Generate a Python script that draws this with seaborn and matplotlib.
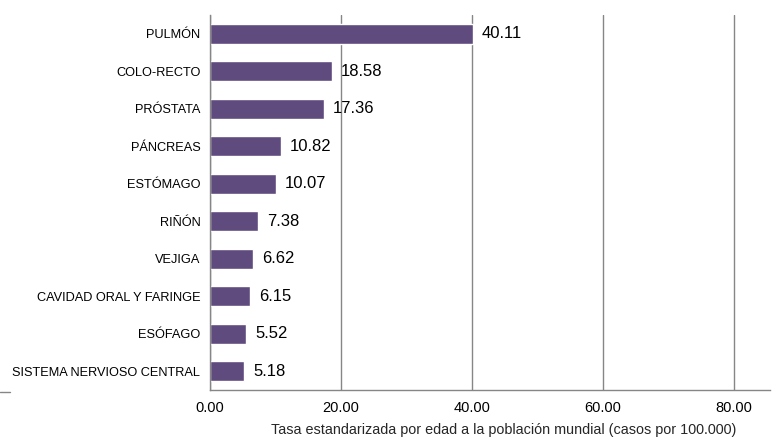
import matplotlib
matplotlib.use('Agg')
import matplotlib.pyplot as plt
import seaborn as sns
import pandas as pd
from matplotlib.lines import Line2D

categorias = ["PULMÓN", "COLO-RECTO", "PRÓSTATA", "PÁNCREAS", "ESTÓMAGO",
              "RIÑÓN", "VEJIGA", "CAVIDAD ORAL Y FARINGE", "ESÓFAGO",
              "SISTEMA NERVIOSO CENTRAL"]
tasas = [40.11, 18.58, 17.36, 10.82, 10.07, 7.38, 6.62, 6.15, 5.52, 5.18]
ticks_x = [0, 20, 40, 60, 80]

df = pd.DataFrame({"cat": categorias, "tasa": tasas})

sns.set_style("white")
plt.rcParams['font.family'] = ['Liberation Sans', 'DejaVu Sans']
plt.rcParams['text.color'] = 'black'
plt.rcParams['xtick.color'] = 'black'
plt.rcParams['ytick.color'] = 'black'

fig = plt.figure(figsize=(7.72, 4.4), dpi=100)
ax = fig.add_axes([0.272, 0.1136, 0.725, 0.852])

sns.barplot(data=df, x="tasa", y="cat", orient="h", color="#5F4B7E",
            saturation=1, width=0.54, ax=ax)

for i, v in enumerate(tasas):
    ax.text(v + 1.4, i, f"{v:.2f}", va="center", ha="left", fontsize=12, color="black")

ax.set_xlim(0, 85.5)
ax.set_ylim(9.5, -0.5)
ax.set_xticks(ticks_x)
ax.set_xticklabels([f"{t:.2f}" for t in ticks_x], fontsize=10.5)
ax.set_yticks(range(len(categorias)))
ax.set_yticklabels(categorias, fontsize=9.2)
ax.tick_params(axis='y', length=0, pad=7)
ax.tick_params(axis='x', length=4, color="#868686", direction='out', pad=4)

# marcas de separación en el eje vertical
ax.set_yticks([i - 0.5 for i in range(len(categorias) + 1)], minor=True)
ax.tick_params(axis='y', which='minor', length=4, color="#868686", direction='out')

ax.xaxis.grid(True, color="#868686", linewidth=1)
ax.set_axisbelow(True)
for s in ["top", "right"]:
    ax.spines[s].set_visible(False)
for s in ["left", "bottom"]:
    ax.spines[s].set_color("#868686")
    ax.spines[s].set_linewidth(1)

ax.set_ylabel("")
ax.set_xlabel("Tasa estandarizada por edad a la población mundial (casos por 100.000)",
              fontsize=10.4, va="center")
ax.xaxis.set_label_coords((504 - 210) / 560, -0.107)

fig.add_artist(Line2D([0.0, 0.013], [0.108, 0.108], color="#868686", linewidth=1))

fig.savefig("out.png", dpi=100)
